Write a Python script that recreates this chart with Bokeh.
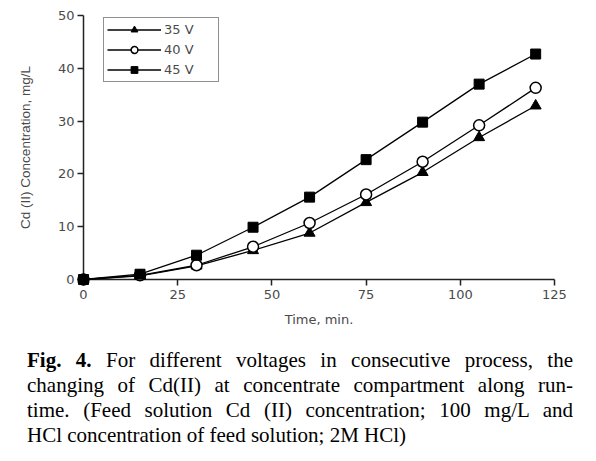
from bokeh.plotting import figure
from bokeh.models import Range1d, Legend, LegendItem, Div
from bokeh.layouts import column
from bokeh.embed import file_html
from bokeh.resources import INLINE

# ---- data ----
time_min = [0, 15, 30, 45, 60, 75, 90, 105, 120]
cd_35v = [0, 0.7, 2.6, 5.5, 8.8, 14.6, 20.3, 26.9, 32.9]
cd_40v = [0, 0.8, 2.7, 6.2, 10.7, 16.1, 22.3, 29.2, 36.3]
cd_45v = [0, 1.0, 4.6, 9.9, 15.6, 22.7, 29.8, 37.0, 42.7]
series_labels = ["35 V", "40 V", "45 V"]
x_ticks = [0, 25, 50, 75, 100, 125]
y_ticks = [0, 10, 20, 30, 40, 50]
x_title = "Time, min."
y_title = "Cd (II) Concentration, mg/L"
caption_lines = [
    "<b>Fig. 4.</b> For different voltages in consecutive process, the",
    "changing of Cd(II) at concentrate compartment along run-",
    "time. (Feed solution Cd (II) concentration; 100 mg/L and",
    "HCl concentration of feed solution; 2M HCl)",
]

TXT = "#4a4a4a"
AX = "#222222"

p = figure(width=596, height=343,
           x_range=Range1d(0, 125), y_range=Range1d(0, 50),
           output_backend="svg", toolbar_location=None,
           min_border_left=83, min_border_right=42,
           min_border_top=15, min_border_bottom=64)
p.outline_line_color = None
p.grid.visible = False
p.background_fill_color = "white"

for ax in (p.xaxis, p.yaxis):
    ax.axis_line_color = AX
    ax.axis_line_width = 1.5
    ax.major_tick_line_color = AX
    ax.major_tick_line_width = 1.5
    ax.major_tick_in = 0
    ax.major_tick_out = 6
    ax.minor_tick_line_color = None
    ax.major_label_text_font = "DejaVu Sans"
    ax.major_label_text_font_size = "13px"
    ax.major_label_text_color = TXT
    ax.axis_label_text_font_style = "normal"
    ax.axis_label_text_color = TXT

p.xaxis.ticker = x_ticks
p.yaxis.ticker = y_ticks
p.xaxis.major_label_standoff = 4
p.yaxis.major_label_standoff = 3
p.xaxis.axis_label = x_title
p.yaxis.axis_label = y_title
p.xaxis.axis_label_text_font = "DejaVu Sans"
p.xaxis.axis_label_text_font_size = "13px"
p.xaxis.axis_label_standoff = 10
p.yaxis.axis_label_text_font = "Liberation Sans"
p.yaxis.axis_label_text_font_size = "13.5px"
p.yaxis.axis_label_standoff = 22

items = []
l1 = p.line(time_min, cd_35v, line_color="black", line_width=1.3, level="overlay")
m1 = p.scatter(time_min, cd_35v, marker="triangle", size=11,
               fill_color="black", line_color="black", level="overlay")
items.append(LegendItem(label=series_labels[0], renderers=[l1, m1]))
l2 = p.line(time_min, cd_40v, line_color="black", line_width=1.3, level="overlay")
m2 = p.scatter(time_min, cd_40v, marker="circle", size=11,
               fill_color="white", line_color="black", line_width=1.5,
               level="overlay")
items.append(LegendItem(label=series_labels[1], renderers=[l2, m2]))
l3 = p.line(time_min, cd_45v, line_color="black", line_width=1.3, level="overlay")
m3 = p.scatter(time_min, cd_45v, marker="square", size=10,
               fill_color="black", line_color="black", level="overlay")
items.append(LegendItem(label=series_labels[2], renderers=[l3, m3]))

legend = Legend(items=items, location=(20, 197), margin=0,
                padding=3, spacing=3, label_height=17, glyph_height=17,
                glyph_width=54, label_standoff=3, label_width=51,
                border_line_color=AX, border_line_width=1.5,
                label_text_font="DejaVu Sans", label_text_font_size="13px",
                label_text_color=TXT, background_fill_alpha=1)
p.add_layout(legend, "center")

line_style = ("text-align:justify;text-align-last:justify;"
              "white-space:nowrap;")
html_lines = []
for i, ln in enumerate(caption_lines):
    if i < len(caption_lines) - 1:
        html_lines.append(f'<div style="{line_style}">{ln}</div>')
    else:
        html_lines.append(f'<div style="white-space:nowrap;">{ln}</div>')
caption_html = ('<div style="font-family:\'Liberation Serif\';font-size:21px;'
                'line-height:25px;color:#000;width:546px;margin-left:22px;">'
                + "".join(html_lines) + '</div>')
caption = Div(text=caption_html, width=586, height=100)

layout = column(p, caption, spacing=0)
open("out.html", "w").write(file_html(layout, INLINE))
